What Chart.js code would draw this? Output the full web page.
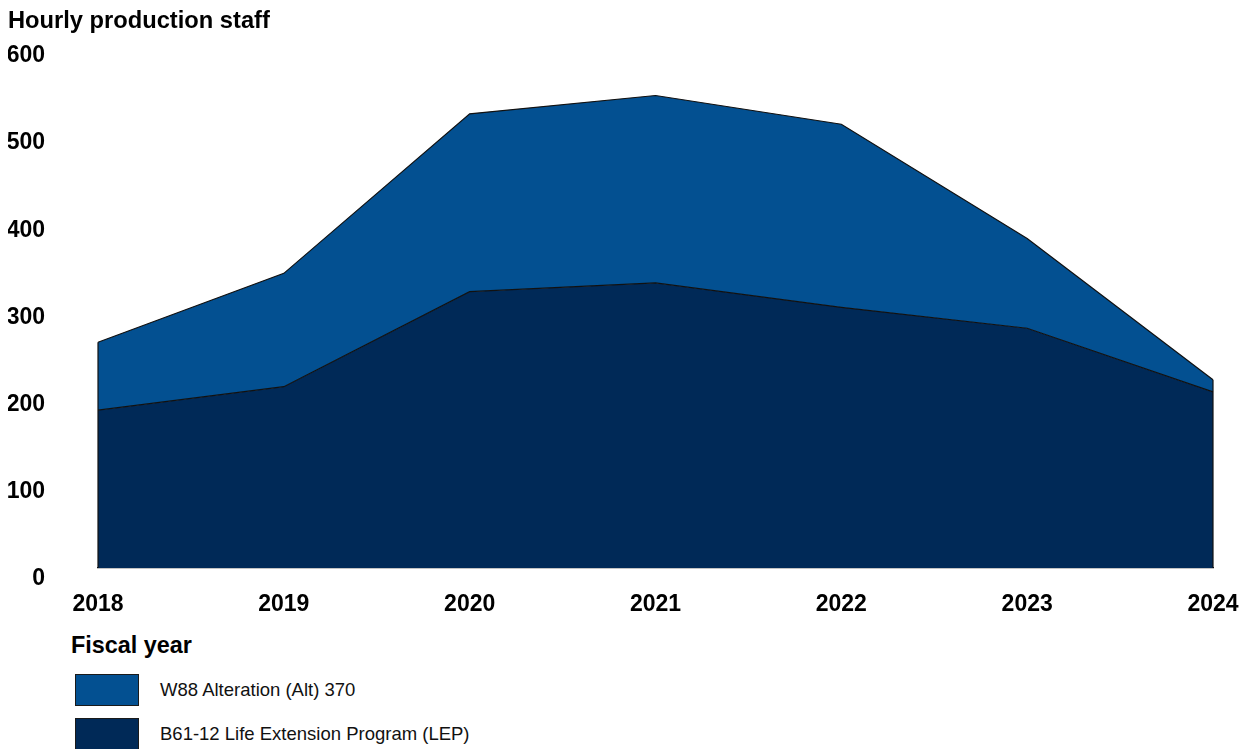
<!DOCTYPE html>
<html>
<head>
<meta charset="utf-8">
<script src="https://cdn.jsdelivr.net/npm/chart.js@4/dist/chart.umd.min.js"></script>
<style>
  body { margin: 0; background: #fff; font-family: "Liberation Sans", Arial, sans-serif; }
  #wrap { position: relative; width: 1243px; height: 749px; overflow: hidden; }
  #chart { position: absolute; left: 0; top: 0; }
  #xtitle { position: absolute; left: 71px; top: 632px; font-size: 23.4px; font-weight: bold; color: #000; }
  .item { position: absolute; left: 75px; height: 32px; }
  .swatch { position: absolute; left: 0; top: 0; width: 62px; height: 30px; border: 1px solid #1a1a1a; }
  .label { position: absolute; left: 85px; top: 5px; font-size: 18.5px; color: #111; white-space: nowrap; }
</style>
</head>
<body>
<div id="wrap">
  <canvas id="chart" width="1243" height="625"></canvas>
  <div id="xtitle">Fiscal year</div>
  <div id="legend"></div>
</div>
<script>
// fiscal years and staff counts per program
const years = ['2018', '2019', '2020', '2021', '2022', '2023', '2024'];
const b61Staff = [181, 208, 317, 327, 299, 275, 202];
const w88Staff = [78, 130, 204, 215, 210, 103, 14];
const yTicks = [0, 100, 200, 300, 400, 500, 600];

const dark = 'rgb(0, 41, 87)';
const blue = 'rgb(3, 80, 145)';
const font = '"Liberation Sans", Arial, sans-serif';

// outline the left and right edges of the stacked area
const edgeLines = {
  id: 'edgeLines',
  afterDatasetsDraw(chart) {
    const ctx = chart.ctx;
    const pts = chart.getDatasetMeta(1).data;
    const y0 = chart.scales.y.getPixelForValue(0);
    ctx.save();
    ctx.strokeStyle = '#111';
    ctx.lineWidth = 1.2;
    [pts[0], pts[pts.length - 1]].forEach(p => {
      ctx.beginPath();
      ctx.moveTo(p.x, y0);
      ctx.lineTo(p.x, p.y);
      ctx.stroke();
    });
    ctx.restore();
  }
};

const chart = new Chart(document.getElementById('chart').getContext('2d'), {
  type: 'line',
  data: {
    labels: years,
    datasets: [
      {
        label: 'B61-12 Life Extension Program (LEP)',
        data: b61Staff,
        backgroundColor: dark,
        borderColor: '#111',
        borderWidth: 1.2,
        fill: 'origin'
      },
      {
        label: 'W88 Alteration (Alt) 370',
        data: w88Staff,
        backgroundColor: blue,
        borderColor: '#111',
        borderWidth: 1.2,
        fill: '-1'
      }
    ]
  },
  options: {
    responsive: false,
    devicePixelRatio: 1,
    animation: false,
    elements: { point: { radius: 0 }, line: { tension: 0 } },
    layout: { padding: { left: 8, right: 30, top: 0, bottom: 0 } },
    plugins: {
      legend: { display: false },
      tooltip: { enabled: false },
      title: {
        display: true,
        text: 'Hourly production staff',
        align: 'start',
        color: '#000',
        font: { family: font, size: 23.7, weight: 'bold' },
        padding: { top: 7, bottom: 9.5 }
      }
    },
    scales: {
      x: {
        offset: false,
        grid: { display: false, drawTicks: false },
        border: { display: true, color: '#111', width: 1.2 },
        // fixed axis size, no extra edge padding from the tick padding
        afterFit: axis => {
          axis.height = 57;
          axis.paddingLeft = 0;
          axis.paddingRight = 0;
        },
        ticks: {
          color: '#000',
          font: { family: font, size: 23, weight: 'bold' },
          padding: 23,
          maxRotation: 0
        }
      },
      y: {
        stacked: true,
        min: 0,
        max: 600,
        afterBuildTicks: axis => { axis.ticks = yTicks.map(v => ({ value: v })); },
        afterFit: axis => {
          axis.width = 90;
          axis.paddingTop = 0;
          axis.paddingBottom = 0;
        },
        grid: { display: false, drawTicks: false },
        border: { display: false },
        ticks: {
          color: '#000',
          font: { family: font, size: 23, weight: 'bold' },
          padding: 53,
          labelOffset: 11
        }
      }
    }
  },
  plugins: [edgeLines]
});

// legend below the axis, W88 listed first
const legend = document.getElementById('legend');
chart.data.datasets.slice().reverse().forEach((ds, i) => {
  const item = document.createElement('div');
  item.className = 'item';
  item.style.top = (674 + i * 44) + 'px';
  item.innerHTML = '<div class="swatch" style="background:' + ds.backgroundColor + '"></div>' +
    '<div class="label">' + ds.label + '</div>';
  legend.appendChild(item);
});
</script>
</body>
</html>
